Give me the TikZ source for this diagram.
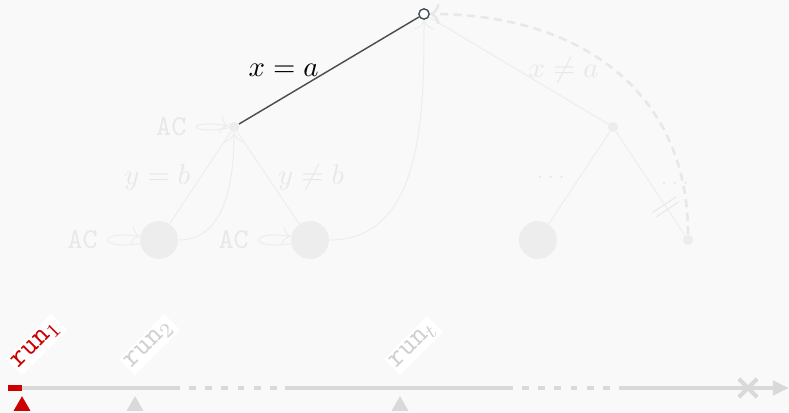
\documentclass[tikz,border=0pt]{standalone}
\usepackage{amsmath,amssymb}
\usepackage{xcolor}
\usepackage{tikz}
\usetikzlibrary{arrows.meta,positioning,shapes.geometric,shapes.misc}
\definecolor{bggray}{RGB}{249,249,249}
\definecolor{fadegray}{RGB}{237,237,237}
\definecolor{fadetext}{RGB}{232,232,232}
\definecolor{axisgray}{RGB}{217,217,217}
\definecolor{labelgray}{RGB}{208,208,208}
\definecolor{edgedark}{RGB}{77,77,77}
\definecolor{rootslate}{RGB}{52,72,78}
\definecolor{runred}{RGB}{204,0,0}

\begin{document}
\begin{tikzpicture}[x=0.3478pt,y=0.3478pt,
 rootdot/.style={circle,draw=rootslate,fill=white,line width=0.45pt,inner sep=0pt,minimum size=3.6pt},
 dot/.style={circle,fill=fadegray,inner sep=0pt,minimum size=3.6pt},
 leaf/.style={circle,fill=fadegray,inner sep=0pt,minimum size=13.2pt},
 fedge/.style={draw=fadegray,line width=0.35pt},
 dedge/.style={draw=edgedark,line width=0.5pt},
 back/.style={-{To[length=1.2mm]},draw=fadegray,line width=0.35pt},
 acloop/.style={-{To[length=1mm]},draw=fadegray,line width=0.35pt},
 flbl/.style={text=fadetext},
 aclbl/.style={text=fadetext,font=\ttfamily},
 axis/.style={draw=axisgray,line width=1.4pt},
 gapline/.style={axis,dash pattern=on 2.4pt off 3.2pt,dash phase=2.4pt},
 tickmark/.style={regular polygon,regular polygon sides=3,inner sep=0pt,minimum size=6.8pt},
 runlbl/.style={rotate=45,anchor=south west,fill=white,inner sep=1pt,font=\ttfamily}
]
\fill[bggray] (0,0) rectangle (789,413);
\useasboundingbox (0,0) rectangle (789,413);

\node[dot] (xa) at (234,286) {};
\node[dot] (xna) at (613,286) {};
\node[leaf] (yb) at (159,173) {};
\node[leaf] (ynb) at (310,173) {};
\node[leaf] (xnl) at (538,173) {};
\node[dot] (xnr) at (688,173) {};

\draw[fedge] (xa) -- node[left,flbl]{$y = b$} (yb);
\draw[fedge] (xa) -- node[right,flbl]{$y \neq b$} (ynb);
\draw[fedge] (xna) -- node[left,flbl,font=\scriptsize]{$\dots$} (xnl);
\draw[fedge] (xna) -- node[right,flbl,font=\scriptsize]{$\dots$}
  node[pos=.73,sloped,flbl]{$\|$} (xnr);

\draw[acloop] (xa) to[out=190,in=170,distance=15pt] node[left,aclbl]{AC} (xa);
\draw[acloop] (yb) to[out=190,in=170,distance=15pt] node[left,aclbl]{AC} (yb);
\draw[acloop] (ynb) to[out=190,in=170,distance=15pt] node[left,aclbl]{AC} (ynb);

\node[rootdot] (r) at (424,399) {};
\draw[fedge] (r) -- node[right,flbl]{$x \neq a$} (xna);
\draw[back] (yb) to[out=0,in=-90] (xa);
\draw[back] (ynb) to[out=0,in=-90] (r);
\draw[back,draw=fadetext,line width=0.9pt,dash pattern=on 2.8pt off 1.9pt] (xnr) to[out=90,in=0,looseness=1.1] (r);
\draw[dedge] (r) -- node[left,text=black]{$x = a$} (xa);

\coordinate (a0) at (8,25);
\coordinate (a1) at (22,25);
\coordinate (a2) at (180,25);
\coordinate (a3) at (285,25);
\coordinate (a4) at (513,25);
\coordinate (a5) at (625,25);
\coordinate (a6) at (789,25);
\draw[axis] (a1) -- (a2);
\draw[gapline] (a2) -- (a3);
\draw[axis] (a3) -- (a4);
\draw[gapline] (a4) -- (a5);
\draw[axis,-{Triangle[length=5.6pt,width=4.9pt]}] (a5) -- (a6);
\draw[runred,line width=1.8pt] (a0) -- (a1);
\node[cross out,draw=axisgray,line width=1.4pt,minimum size=5pt,inner sep=0pt] (halt) at (748,25) {};

\node[tickmark,fill=runred] (k1) at (22,7) {};
\node[tickmark,fill=axisgray] (k2) at (135,7) {};
\node[tickmark,fill=axisgray] (k3) at (400,7) {};
\node[runlbl,text=runred] (run1) at (22,37) {run$_1$};
\node[runlbl,text=labelgray] (run2) at (135,37) {run$_2$};
\node[runlbl,text=labelgray] (runt) at (400,37) {run$_t$};
\end{tikzpicture}
\end{document}
